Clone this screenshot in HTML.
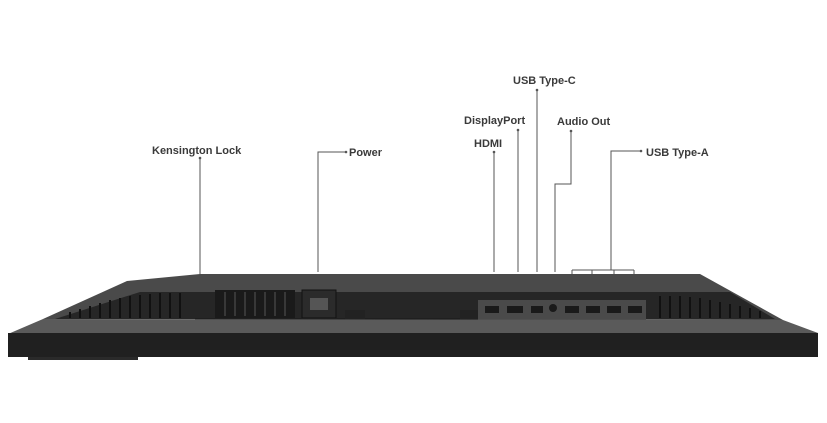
<!DOCTYPE html>
<html><head><meta charset="utf-8"><style>
html,body{margin:0;padding:0;background:#fff;width:827px;height:423px;overflow:hidden}
text{font-family:"Liberation Sans",sans-serif;font-weight:bold;font-size:11px;fill:#3a3a3a}
</style></head><body>
<svg width="827" height="423" viewBox="0 0 827 423">
<g stroke="#555" stroke-width="1" fill="none">
<path d="M200 158V276"/>
<path d="M346 152H318V272"/>
<path d="M494 152V272"/>
<path d="M518 130V272"/>
<path d="M537 90V272"/>
<path d="M571 131V184H555V272"/>
<path d="M641 151H611V270M572 270H634M572 270V278M592 270V278M614 270V278M634 270V278"/>
</g>
<g fill="#555"><circle cx="200" cy="158" r="1.3"/><circle cx="346" cy="152" r="1.3"/><circle cx="494" cy="152" r="1.3"/><circle cx="518" cy="130" r="1.3"/><circle cx="537" cy="90" r="1.3"/><circle cx="571" cy="131" r="1.3"/><circle cx="641" cy="151" r="1.3"/></g>
<text x="152" y="154">Kensington Lock</text>
<text x="349" y="156">Power</text>
<text x="474" y="147">HDMI</text>
<text x="464" y="124">DisplayPort</text>
<text x="513" y="84">USB Type-C</text>
<text x="557" y="125">Audio Out</text>
<text x="646" y="156">USB Type-A</text>
<polygon points="43,319 127,281 200,274 700,274 783,320" fill="#4a4a4a"/>
<polygon points="55,319 140,292 730,292 775,319" fill="#262626"/>
<g stroke="#111" stroke-width="2">
<path d="M70 318V312M80 318V309M90 318V306M100 318V303M110 318V300M120 318V298M130 318V296M140 318V295M150 318V294M160 318V293M170 318V293M180 318V293"/>
<path d="M660 318V296M670 318V296M680 318V296M690 318V297M700 318V298M710 318V300M720 318V302M730 318V304M740 318V306M750 318V308M760 318V311"/>
</g>
<rect x="215" y="290" width="80" height="28" fill="#1a1a1a"/>
<g stroke="#555" stroke-width="1"><path d="M225 292V316M235 292V316M245 292V316M255 292V316M265 292V316M275 292V316M285 292V316"/></g>
<rect x="302" y="290" width="34" height="28" fill="#2b2b2b" stroke="#111"/>
<rect x="310" y="298" width="18" height="12" fill="#555"/>
<rect x="478" y="300" width="168" height="20" fill="#4a4a4a"/>
<g fill="#1a1a1a"><rect x="485" y="306" width="14" height="7"/><rect x="507" y="306" width="16" height="7"/><rect x="531" y="306" width="12" height="7"/><circle cx="553" cy="308" r="4"/><rect x="565" y="306" width="14" height="7"/><rect x="586" y="306" width="14" height="7"/><rect x="607" y="306" width="14" height="7"/><rect x="628" y="306" width="14" height="7"/></g>
<rect x="195" y="318" width="280" height="10" fill="#1f1f1f"/>
<rect x="345" y="310" width="20" height="18" fill="#222"/>
<rect x="460" y="310" width="18" height="18" fill="#222"/>
<polygon points="43,319 783,320 818,333 8,334" fill="#5a5a5a"/>
<rect x="8" y="333" width="810" height="24" fill="#202020"/>
<rect x="28" y="357" width="110" height="3" fill="#2a2a2a"/>
</svg>
</body></html>
